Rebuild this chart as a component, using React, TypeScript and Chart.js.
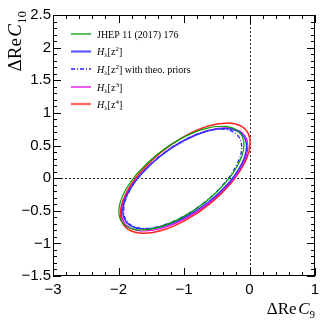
import React, { useEffect, useRef } from "react";
import { Chart, registerables } from "chart.js";
Chart.register(...registerables);

// Axis ranges / ticks
const xRange = [-3, 1];
const yRange = [-1.5, 2.5];
const xMajorStep = 1;
const yMajorStep = 0.5;
const xMinorStep = 0.2;
const yMinorStep = 0.1;

// Legend labels
const seriesNames = [
  "JHEP 11 (2017) 176",
  "Hλ[z2]",
  "Hλ[z2] with theo. priors",
  "Hλ[z3]",
  "Hλ[z4]",
];

// Contour points (68% CL ellipses)
const jhepX = [-0.085, -0.158, -0.365, -0.675, -1.04, -1.406, -1.715, -1.922, -1.995, -1.922, -1.715, -1.406, -1.04, -0.675, -0.365, -0.158];
const jhepY = [0.511, 0.705, 0.792, 0.758, 0.609, 0.367, 0.069, -0.239, -0.511, -0.705, -0.792, -0.758, -0.609, -0.367, -0.069, 0.239];

const z2X = [-0.045, -0.117, -0.322, -0.628, -0.99, -1.352, -1.658, -1.863, -1.935, -1.863, -1.658, -1.352, -0.99, -0.628, -0.322, -0.117];
const z2Y = [0.485, 0.673, 0.757, 0.724, 0.58, 0.346, 0.057, -0.242, -0.505, -0.693, -0.777, -0.744, -0.6, -0.366, -0.077, 0.222];

const z2PriorX = [-0.12, -0.189, -0.384, -0.676, -1.02, -1.364, -1.656, -1.852, -1.92, -1.852, -1.656, -1.364, -1.02, -0.676, -0.384, -0.189];
const z2PriorY = [0.479, 0.664, 0.747, 0.715, 0.572, 0.341, 0.056, -0.239, -0.499, -0.684, -0.767, -0.735, -0.592, -0.361, -0.076, 0.219];

const z3X = [-0.025, -0.098, -0.308, -0.621, -0.99, -1.359, -1.672, -1.882, -1.955, -1.882, -1.672, -1.359, -0.99, -0.621, -0.308, -0.098];
const z3Y = [0.488, 0.681, 0.767, 0.733, 0.585, 0.345, 0.049, -0.258, -0.528, -0.721, -0.807, -0.773, -0.625, -0.385, -0.089, 0.218];

const z4X = [0.01, -0.065, -0.28, -0.601, -0.98, -1.359, -1.68, -1.895, -1.97, -1.895, -1.68, -1.359, -0.98, -0.601, -0.28, -0.065];
const z4Y = [0.543, 0.75, 0.842, 0.806, 0.647, 0.39, 0.074, -0.254, -0.543, -0.75, -0.842, -0.806, -0.647, -0.39, -0.074, 0.254];

const colors = ["#00a000", "#3535ff", "#2020ff", "#e000e0", "#ff2020"];
const legendColors = ["#00a000", "#5a5aff", "#2020ff", "#e000e0", "#ff6a6a"];
const widths = [1.2, 1.5, 1.3, 1.2, 1.5];
const legendWidths = [1.3, 2.2, 1.3, 1.3, 2.4];
const dashes = [[], [], [4, 2, 1, 2], [], []];

// closed loop with wrap-around neighbours so the spline is smooth at the seam
function loop(xs: number[], ys: number[]) {
  const n = xs.length;
  const pts = [{ x: xs[n - 1], y: ys[n - 1] }];
  for (let i = 0; i < n; i++) pts.push({ x: xs[i], y: ys[i] });
  pts.push({ x: xs[0], y: ys[0] });
  pts.push({ x: xs[1], y: ys[1] });
  return pts;
}

const fmt = (v: number) => {
  const s = String(Math.round(v * 10) / 10);
  return s.replace("-", "\u2212");
};

type Part = { t: string; f: string; dy?: number };

function drawRich(ctx: CanvasRenderingContext2D, parts: Part[], x: number, y: number, align: "left" | "right") {
  let total = 0;
  for (const p of parts) {
    ctx.font = p.f;
    total += ctx.measureText(p.t).width;
  }
  let cx = align === "left" ? x : x - total;
  ctx.textAlign = "left";
  ctx.textBaseline = "alphabetic";
  for (const p of parts) {
    ctx.font = p.f;
    ctx.fillText(p.t, cx, y + (p.dy || 0));
    cx += ctx.measureText(p.t).width;
  }
}

const SERIF = '"Liberation Serif", "DejaVu Serif", serif';

function legendParts(i: number): Part[] {
  const f = `10px ${SERIF}`;
  const fi = `italic 10px ${SERIF}`;
  const fs = `7px ${SERIF}`;
  if (i === 0) return [{ t: seriesNames[0], f }];
  const sup = ["", "2", "2", "3", "4"][i];
  const parts: Part[] = [
    { t: "H", f: fi },
    { t: "λ", f: fs, dy: 2 },
    { t: "[z", f },
    { t: sup, f: fs, dy: -4 },
    { t: "]", f },
  ];
  if (i === 2) parts.push({ t: " with theo. priors", f });
  return parts;
}

const rootPlugin = {
  id: "rootStyle",
  beforeDatasetsDraw(chart: any) {
    const { ctx, chartArea: a, scales } = chart;
    const xs = scales.x, ys = scales.y;
    ctx.save();
    ctx.strokeStyle = "#222";
    ctx.lineWidth = 1;
    ctx.setLineDash([2, 2]);
    const x0 = Math.round(xs.getPixelForValue(0)) + 0.5;
    const y0 = Math.round(ys.getPixelForValue(0)) + 0.5;
    ctx.beginPath();
    ctx.moveTo(x0, a.top);
    ctx.lineTo(x0, a.bottom);
    ctx.moveTo(a.left, y0);
    ctx.lineTo(a.right, y0);
    ctx.stroke();
    ctx.restore();
  },
  afterDatasetsDraw(chart: any) {
    const { ctx, chartArea: a, scales } = chart;
    const xs = scales.x, ys = scales.y;
    ctx.save();
    ctx.strokeStyle = "#000";
    ctx.lineWidth = 1;
    ctx.setLineDash([]);
    ctx.strokeRect(a.left + 0.5, a.top + 0.5, a.right - a.left - 1, a.bottom - a.top - 1);
    ctx.beginPath();
    const nx = Math.round((xRange[1] - xRange[0]) / xMinorStep);
    for (let i = 0; i <= nx; i++) {
      const v = xRange[0] + i * xMinorStep;
      const major = i % Math.round(xMajorStep / xMinorStep) === 0;
      const len = major ? 8 : 4;
      const px = Math.round(xs.getPixelForValue(v)) + 0.5;
      ctx.moveTo(px, a.bottom);
      ctx.lineTo(px, a.bottom - len);
      ctx.moveTo(px, a.top);
      ctx.lineTo(px, a.top + len);
    }
    const ny = Math.round((yRange[1] - yRange[0]) / yMinorStep);
    for (let i = 0; i <= ny; i++) {
      const v = yRange[0] + i * yMinorStep;
      const major = i % Math.round(yMajorStep / yMinorStep) === 0;
      const len = major ? 8 : 4;
      const py = Math.round(ys.getPixelForValue(v)) + 0.5;
      ctx.moveTo(a.left, py);
      ctx.lineTo(a.left + len, py);
      ctx.moveTo(a.right, py);
      ctx.lineTo(a.right - len, py);
    }
    ctx.stroke();

    // Legend
    const rows = [34, 51.5, 69, 87, 104];
    for (let i = 0; i < 5; i++) {
      ctx.strokeStyle = legendColors[i];
      ctx.lineWidth = legendWidths[i];
      ctx.setLineDash(dashes[i]);
      ctx.beginPath();
      ctx.moveTo(71, rows[i]);
      ctx.lineTo(91, rows[i]);
      ctx.stroke();
      ctx.setLineDash([]);
      ctx.fillStyle = "#000";
      drawRich(ctx, legendParts(i), 97, rows[i] + 3.5, "left");
    }

    // Axis titles
    ctx.fillStyle = "#000";
    drawRich(
      ctx,
      [
        { t: "ΔRe", f: `17px ${SERIF}` },
        { t: " ", f: `6px ${SERIF}` },
        { t: "C", f: `italic 17px ${SERIF}` },
        { t: "9", f: `11px ${SERIF}`, dy: 4 },
      ],
      315,
      314,
      "right"
    );
    ctx.save();
    ctx.translate(21, 11);
    ctx.rotate(-Math.PI / 2);
    drawRich(
      ctx,
      [
        { t: "ΔRe", f: `19px ${SERIF}` },
        { t: " ", f: `6px ${SERIF}` },
        { t: "C", f: `italic 19px ${SERIF}` },
        { t: "10", f: `13px ${SERIF}`, dy: 5 },
      ],
      0,
      0,
      "right"
    );
    ctx.restore();
    ctx.restore();
  },
};

export default function App() {
  const ref = useRef<HTMLCanvasElement>(null);
  useEffect(() => {
    document.body.style.margin = "0";
    const series = [
      loop(jhepX, jhepY),
      loop(z2X, z2Y),
      loop(z2PriorX, z2PriorY),
      loop(z3X, z3Y),
      loop(z4X, z4Y),
    ];
    const chart = new Chart(ref.current!, {
      type: "scatter",
      data: {
        datasets: series.map((d, i) => ({
          label: seriesNames[i],
          data: d,
          showLine: true,
          borderColor: colors[i],
          borderWidth: widths[i],
          borderDash: dashes[i],
          pointRadius: 0,
          tension: 0.4,
          fill: false,
          segment: {
            borderColor: (c: any) =>
              c.p0DataIndex === 0 || c.p1DataIndex === d.length - 1 ? "rgba(0,0,0,0)" : undefined,
          },
        })),
      },
      options: {
        animation: false,
        responsive: false,
        layout: { padding: { top: 15, right: 17, left: 0, bottom: 0 } },
        plugins: { legend: { display: false }, tooltip: { enabled: false } },
        scales: {
          x: {
            type: "linear",
            min: xRange[0],
            max: xRange[1],
            grid: { display: false, drawTicks: false },
            border: { display: false },
            afterFit: (s: any) => { s.height = 46; },
            ticks: {
              stepSize: xMajorStep,
              autoSkip: false,
              maxRotation: 0,
              padding: 5,
              color: "#000",
              font: { family: '"Liberation Sans", Arial, sans-serif', size: 15 },
              callback: (v: any) => fmt(Number(v)),
            },
          },
          y: {
            type: "linear",
            min: yRange[0],
            max: yRange[1],
            grid: { display: false, drawTicks: false },
            border: { display: false },
            afterFit: (s: any) => { s.width = 53; },
            ticks: {
              stepSize: yMajorStep,
              autoSkip: false,
              padding: 2,
              color: "#000",
              font: { family: '"Liberation Sans", Arial, sans-serif', size: 15 },
              callback: (v: any) => fmt(Number(v)),
            },
          },
        },
      },
      plugins: [rootPlugin],
    });
    return () => chart.destroy();
  }, []);
  return <canvas ref={ref} width={332} height={322} style={{ display: "block" }} />;
}
